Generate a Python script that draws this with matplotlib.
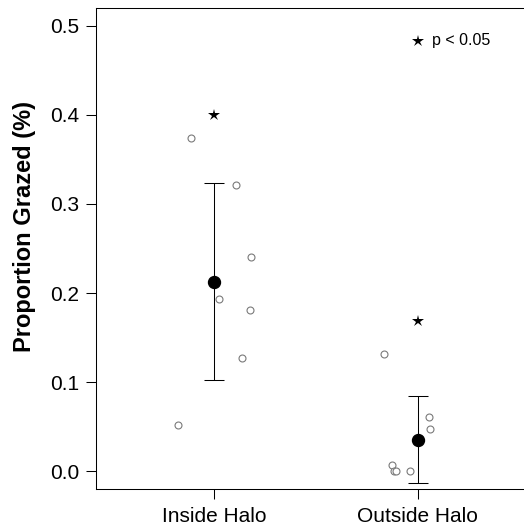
import matplotlib
matplotlib.use("Agg")
import matplotlib.pyplot as plt

plt.rcParams['font.family'] = ['Liberation Sans', 'DejaVu Sans']

# Data
groups = ["Inside Halo", "Outside Halo"]
group_pos = [1, 2]
means = [0.2127, 0.0354]
errs = [0.1104, 0.0488]
star_y = [0.400, 0.169]

inside_vals = [0.3735, 0.3215, 0.2404, 0.1936, 0.1809, 0.1266, 0.0522]
inside_jitter = [-0.116, 0.108, 0.180, 0.023, 0.174, 0.138, -0.178]
outside_vals = [0.1315, 0.0608, 0.0469, 0.0065, 0.0006, 0.0000, 0.0000]
outside_jitter = [-0.166, 0.057, 0.059, -0.128, -0.117, -0.108, -0.038]

yticks = [0.0, 0.1, 0.2, 0.3, 0.4, 0.5]
ytick_labels = ["0.0", "0.1", "0.2", "0.3", "0.4", "0.5"]

W, H = 524, 531
fig = plt.figure(figsize=(W / 100, H / 100), dpi=100)
ax = fig.add_axes([96.3 / W, 1 - 489 / H, 439.3 / W, (489 - 8) / H])

lw = 0.75
# raw points
for pos, vals, jit in [(group_pos[0], inside_vals, inside_jitter),
                       (group_pos[1], outside_vals, outside_jitter)]:
    xs = [pos + j for j in jit]
    ax.plot(xs, vals, linestyle='none', marker='o', markersize=5.0,
            markerfacecolor='white', markeredgecolor='#7a7a7a',
            markeredgewidth=0.8, zorder=3)

# means with error bars
ax.errorbar(group_pos, means, yerr=errs, fmt='o', color='black',
            markersize=8.6, elinewidth=lw, capsize=7.2, capthick=lw, zorder=4)

# significance stars
ax.plot(group_pos, star_y, linestyle='none', marker='*', markersize=9,
        color='black', markeredgewidth=0, zorder=5)

# legend note
ax.plot([2.0], [0.4835], linestyle='none', marker='*', markersize=9,
        color='black', markeredgewidth=0)
ax.text(2.07, 0.4835, "p < 0.05", fontsize=11.5, va='center', ha='left')

ax.set_xlim(0.42, 2.58)
ax.set_ylim(-0.02, 0.52)
ax.set_xticks(group_pos)
ax.set_xticklabels(groups)
ax.set_yticks(yticks)
ax.set_yticklabels(ytick_labels)
ax.tick_params(axis='both', labelsize=15, length=7.2, width=lw, pad=5)
ax.tick_params(axis='x', pad=6)

for s in ax.spines.values():
    s.set_linewidth(lw)
    s.set_color('black')
ax.spines['right'].set_visible(False)

fig.text(25 / W, 1 - 226 / H, "Proportion Grazed (%)", rotation=90,
         fontsize=17, fontweight='bold', ha='center', va='center')

fig.savefig("out.png", dpi=100)
